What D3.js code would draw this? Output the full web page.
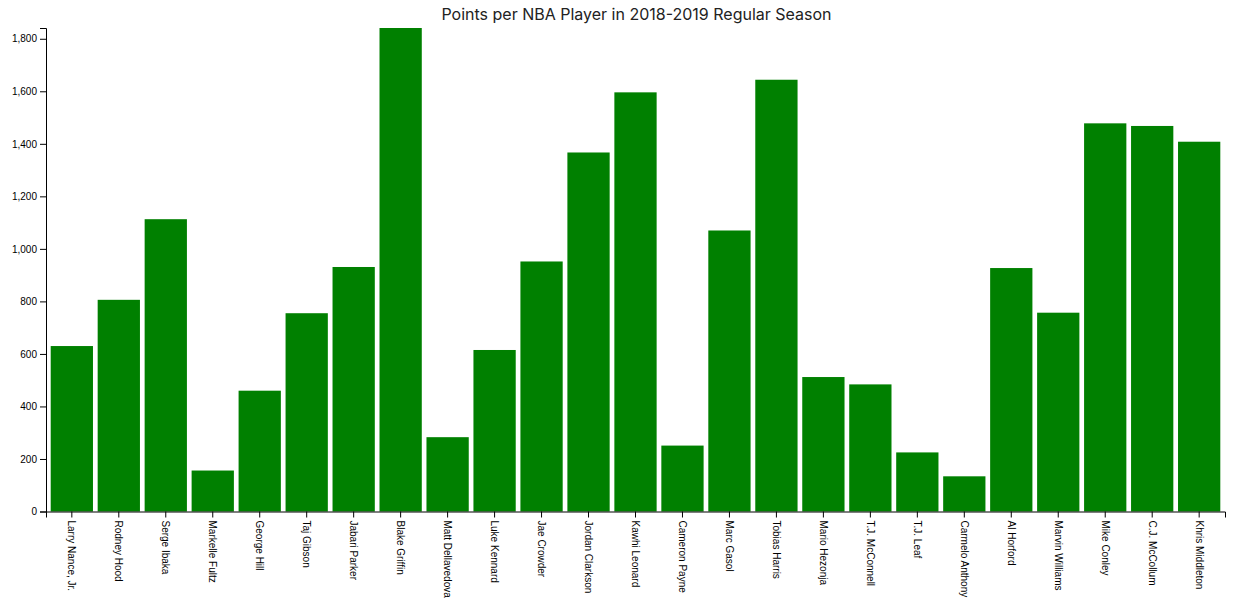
<!DOCTYPE html>
<html>
<head>
<meta charset="utf-8">
<script src="https://cdn.jsdelivr.net/npm/d3@7"></script>
<style>
  body { margin: 0; background: #fff; }
  .axis text { font-family: "Liberation Sans", Arial, sans-serif; font-size: 10px; fill: #000; }
  .title { font-family: Inter, "Noto Sans", sans-serif; font-size: 16px; fill: #222; }
</style>
</head>
<body>
<svg id="chart" width="1233" height="605"></svg>
<script>
// Players and their total points in the 2018-2019 regular season
const players = [
  "Larry Nance, Jr.", "Rodney Hood", "Serge Ibaka", "Markelle Fultz", "George Hill",
  "Taj Gibson", "Jabari Parker", "Blake Griffin", "Matt Dellavedova", "Luke Kennard",
  "Jae Crowder", "Jordan Clarkson", "Kawhi Leonard", "Cameron Payne", "Marc Gasol",
  "Tobias Harris", "Mario Hezonja", "T.J. McConnell", "T.J. Leaf", "Carmelo Anthony",
  "Al Horford", "Marvin Williams", "Mike Conley", "C.J. McCollum", "Khris Middleton"
];
const points = [
  630, 806, 1113, 156, 460,
  755, 931, 1841, 283, 615,
  952, 1367, 1596, 251, 1070,
  1644, 512, 484, 225, 134,
  927, 757, 1478, 1468, 1408
];
const yTicks = [0, 200, 400, 600, 800, 1000, 1200, 1400, 1600, 1800];

const width = 1233, height = 605;
const margin = { top: 28, right: 8, bottom: 93.5, left: 46 };

const svg = d3.select("#chart");

const x = d3.scaleBand()
  .domain(players)
  .range([margin.left, width - margin.right])
  .padding(0.1);

const y = d3.scaleLinear()
  .domain([0, d3.max(points)])
  .range([height - margin.bottom, margin.top]);

const data = players.map((name, i) => ({ name, value: points[i] }));

svg.append("g")
  .selectAll("rect")
  .data(data)
  .join("rect")
  .attr("x", d => x(d.name))
  .attr("y", d => y(d.value))
  .attr("width", x.bandwidth())
  .attr("height", d => y(0) - y(d.value))
  .attr("fill", "#008000");

svg.append("g")
  .attr("class", "axis")
  .attr("transform", `translate(0,${height - margin.bottom})`)
  .call(d3.axisBottom(x).tickSizeOuter(6))
  .selectAll("text")
  .attr("transform", "rotate(90)")
  .attr("x", 9)
  .attr("y", 0)
  .attr("dy", ".35em")
  .style("text-anchor", "start");

svg.append("g")
  .attr("class", "axis")
  .attr("transform", `translate(${margin.left},0)`)
  .call(d3.axisLeft(y).tickValues(yTicks).tickFormat(d3.format(",")));

svg.append("text")
  .attr("class", "title")
  .attr("x", width / 2 + 20)
  .attr("y", 20)
  .attr("text-anchor", "middle")
  .text("Points per NBA Player in 2018-2019 Regular Season");
</script>
</body>
</html>
